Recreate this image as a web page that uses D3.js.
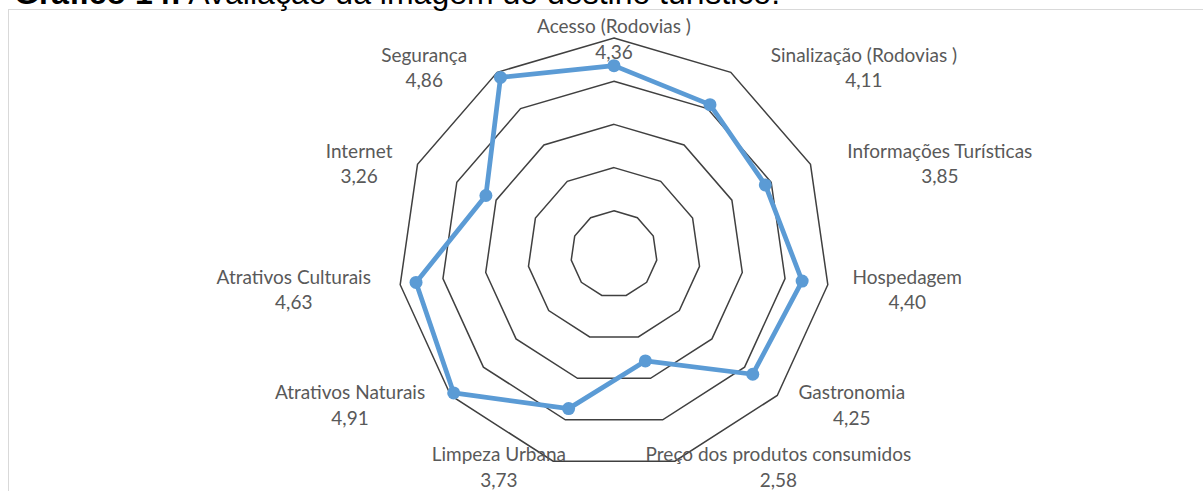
<!DOCTYPE html>
<html>
<head>
<meta charset="utf-8">
<script src="https://cdn.jsdelivr.net/npm/d3@7"></script>
<style>
  body { margin: 0; background: #fff; }
  svg { display: block; }
</style>
</head>
<body>
<div id="vis"></div>
<script>
// chart data
const categories = [
    "Acesso (Rodovias )",
    "Sinalização (Rodovias )",
    "Informações Turísticas",
    "Hospedagem",
    "Gastronomia",
    "Preço dos produtos consumidos",
    "Limpeza Urbana",
    "Atrativos Naturais",
    "Atrativos Culturais",
    "Internet",
    "Segurança"
];
const values = [4.36, 4.11, 3.85, 4.40, 4.25, 2.58, 3.73, 4.91, 4.63, 3.26, 4.86];
const ticks = [1, 2, 3, 4, 5];
const titleBold = "Gráfico 14:";
const titleText = " Avaliação da imagem do destino turístico.";

const width = 1203;
const height = 491;
const cx = 614, cy = 254;

const svg = d3.select('#vis')
    .append('svg')
    .attr('width', width)
    .attr('height', height);

// chart frame
svg.append('rect')
    .attr('x', 8.5)
    .attr('y', 9.5)
    .attr('width', 1250)
    .attr('height', 600)
    .attr('fill', 'none')
    .attr('stroke', '#d9d9d9')
    .attr('stroke-width', 1);

// title (cut at the top in the source image)
const title = svg.append('text')
    .attr('x', 14)
    .attr('y', 4)
    .attr('font-family', 'Liberation Sans, Arial, sans-serif')
    .attr('font-size', 32)
    .attr('fill', '#000');
title.append('tspan').attr('font-weight', 'bold').text(titleBold);
title.append('tspan').text(titleText);

const locale = d3.formatLocale({ decimal: ",", thousands: ".", grouping: [3], currency: ["R$", ""] });
const fmt = locale.format(".2f");

const n = categories.length;
const r = d3.scaleLinear().domain([0, 5]).range([0, 216]);
const angle = d3.scaleLinear().domain([0, n]).range([0, 2 * Math.PI]);

const g = svg.append('g').attr('transform', `translate(${cx},${cy})`);

const radial = d3.lineRadial()
    .angle((d, i) => angle(i))
    .radius(d => r(d))
    .curve(d3.curveLinearClosed);

// grid rings
g.selectAll('path.ring')
    .data(ticks)
    .join('path')
    .attr('class', 'ring')
    .attr('d', t => radial(categories.map(() => t)))
    .attr('fill', 'none')
    .attr('stroke', '#404040')
    .attr('stroke-width', 1.5);

// series
g.append('path')
    .attr('d', radial(values))
    .attr('fill', 'none')
    .attr('stroke', '#5b9bd5')
    .attr('stroke-width', 4.75)
    .attr('stroke-linejoin', 'round');

g.selectAll('circle.dot')
    .data(values)
    .join('circle')
    .attr('class', 'dot')
    .attr('cx', (d, i) => r(d) * Math.sin(angle(i)))
    .attr('cy', (d, i) => -r(d) * Math.cos(angle(i)))
    .attr('r', 6.5)
    .attr('fill', '#5b9bd5');

// category labels, placed roughly the way Excel does it
const lineGap = 25.5;
const labels = svg.selectAll('text.lab')
    .data(categories)
    .join('text')
    .attr('class', 'lab')
    .attr('font-family', 'Lato, sans-serif')
    .attr('font-size', 19)
    .attr('fill', '#595959')
    .attr('text-anchor', 'middle');

labels.each(function(name, i) {
    const t = d3.select(this);
    const a = t.append('tspan').text(name);
    const b = t.append('tspan').text(fmt(values[i]));
    const hw = Math.max(a.node().getComputedTextLength(), b.node().getComputedTextLength()) / 2;
    const s = Math.sin(angle(i)), c = Math.cos(angle(i));
    let x = cx, y = cy + 3.6 - c * 225.4;
    let clamped = false;
    if (y < 39) { y = 39; clamped = true; }
    if (y > 467) { y = 467; clamped = true; }
    if (Math.abs(s) > 0.05) {
        const sign = Math.sign(s);
        if (clamped) x = cx + s * 230 + sign * 0.75 * hw;
        else x = cx + s * (230 + 36 * Math.pow(Math.max(0, c), 2)) + sign * 1.2 * hw;
    }
    // y is the middle of the two-line block; first baseline sits ~6px above
    const base = y - 6;
    a.attr('x', x).attr('y', base);
    b.attr('x', x).attr('y', base + lineGap);
});
</script>
</body>
</html>
